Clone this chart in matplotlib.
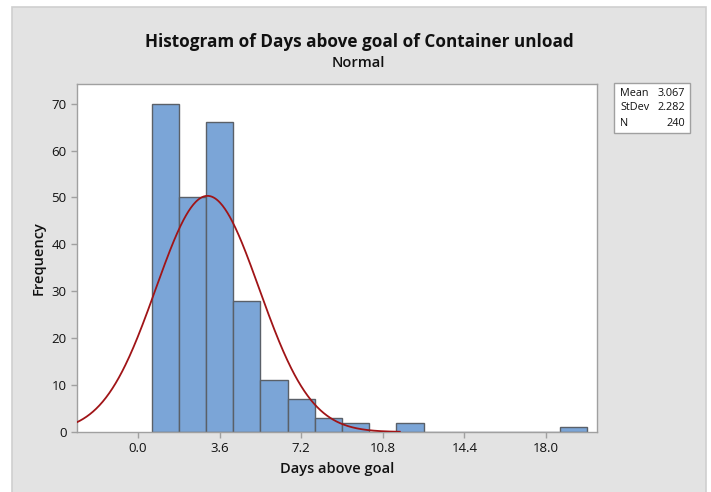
import numpy as np
import matplotlib.pyplot as plt
from matplotlib.patches import Rectangle

plt.rcParams['font.family'] = ['Open Sans', 'DejaVu Sans']

# histogram bins (width 1.2) and counts
bin_edges = [0.6, 1.8, 3.0, 4.2, 5.4, 6.6, 7.8, 9.0, 10.2, 11.4, 12.6, 13.8,
             15.0, 16.2, 17.4, 18.6, 19.8]
counts = [70, 50, 66, 28, 11, 7, 3, 2, 0, 2, 0, 0, 0, 0, 0, 1]
mean = 3.067
stdev = 2.282
n = 240
x_ticks = [0.0, 3.6, 7.2, 10.8, 14.4, 18.0]
y_ticks = [0, 10, 20, 30, 40, 50, 60, 70]

BAR_COLOR = '#7ba5d7'
EDGE_COLOR = '#5a6068'
CURVE_COLOR = '#a01417'
PANEL_COLOR = '#e3e3e3'

W, H = 711, 492
fig = plt.figure(figsize=(W / 100, H / 100), dpi=100)
fig.patch.set_facecolor('white')

# gray panel behind the chart
fig.patches.append(Rectangle((12 / W, -0.01), (706 - 12) / W, (H - 7) / H + 0.01,
                             transform=fig.transFigure, facecolor=PANEL_COLOR,
                             edgecolor='#cfcfcf', linewidth=1.2, zorder=-5))

ax = fig.add_axes([77 / W, (H - 432) / H, (597 - 77) / W, (432 - 84) / H])
ax.set_zorder(2)
ax.set_facecolor('white')

widths = np.diff(bin_edges)
ax.bar(bin_edges[:-1], counts, width=widths, align='edge', color=BAR_COLOR,
       edgecolor=EDGE_COLOR, linewidth=1.0, zorder=2)

xs = np.linspace(-2.7, 11.55, 400)
bw = 1.2
pdf = n * bw / (stdev * np.sqrt(2 * np.pi)) * np.exp(-0.5 * ((xs - mean) / stdev) ** 2)
ax.plot(xs, pdf, color=CURVE_COLOR, linewidth=1.3, zorder=3)

ax.set_xlim(-2.69, 20.25)
ax.set_ylim(0, 74.2)
ax.set_xticks(x_ticks)
ax.set_xticklabels([f'{t:.1f}' for t in x_ticks])
ax.set_yticks(y_ticks)

for side in ['top', 'right', 'left', 'bottom']:
    ax.spines[side].set_color('#a0a0a0')
    ax.spines[side].set_linewidth(1.0)
ax.tick_params(axis='both', colors='#a0a0a0', labelcolor='#111111',
               length=4, width=1.0, labelsize=9.5)
for lbl in ax.get_xticklabels() + ax.get_yticklabels():
    lbl.set_fontweight('medium')

ax.set_xlabel('Days above goal', fontsize=10.5, fontweight='semibold',
              color='#111111', labelpad=5)
ax.set_ylabel('Frequency', fontsize=10.5, fontweight='semibold',
              color='#111111', labelpad=4)

fig.text(359 / W, 1 - 42 / H, 'Histogram of Days above goal of Container unload',
         ha='center', va='center', fontsize=12.3, fontweight='bold', color='#111111')
fig.text(358 / W, 1 - 63 / H, 'Normal', ha='center', va='center',
         fontsize=10.5, fontweight='semibold', color='#111111')

# summary statistics box
fig.patches.append(Rectangle((614 / W, 1 - 133 / H), 76 / W, 50 / H,
                             transform=fig.transFigure, facecolor='white',
                             edgecolor='#a0a0a0', linewidth=1.0, zorder=1))
labels = ['Mean', 'StDev', 'N']
values = [f'{mean:.3f}', f'{stdev:.3f}', f'{n}']
for i, (lab, val) in enumerate(zip(labels, values)):
    y = 1 - (93 + i * 15) / H
    fig.text(620 / W, y, lab, ha='left', va='center', fontsize=7.8, color='#111111')
    fig.text(685 / W, y, val, ha='right', va='center', fontsize=7.8, color='#111111')

fig.savefig('out.png', dpi=100, facecolor=fig.get_facecolor())
